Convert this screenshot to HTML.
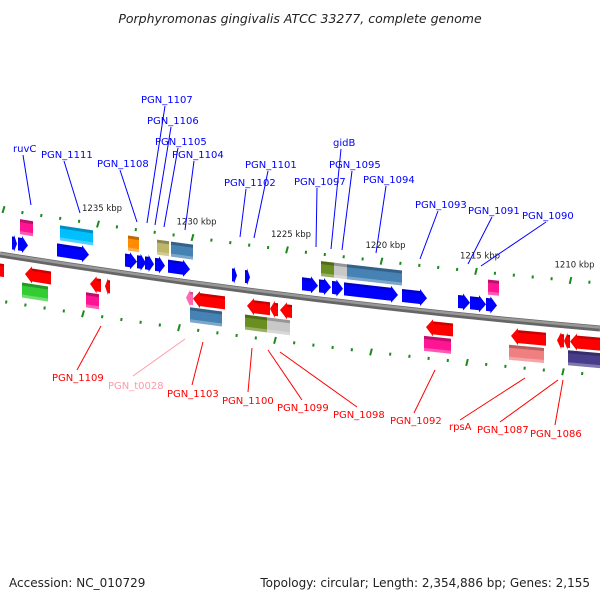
<!DOCTYPE html>
<html><head><meta charset="utf-8"><style>
body{margin:0;background:#fff;}
svg{display:block;font-family:"DejaVu Sans","Liberation Sans",sans-serif;}
</style></head><body>
<svg id="map" width="600" height="600" viewBox="0 0 600 600" xmlns="http://www.w3.org/2000/svg">
<text x="300" y="23" text-anchor="middle" font-size="12.5" font-style="italic" fill="#222">Porphyromonas gingivalis ATCC 33277, complete genome</text>
<text x="9" y="587" font-size="12" fill="#222">Accession: NC_010729</text>
<text x="590" y="587" text-anchor="end" font-size="12" fill="#222">Topology: circular; Length: 2,354,886 bp; Genes: 2,155</text>
<path d="M0,254.5 Q299,302.5 600,328.5" stroke="#666" stroke-width="6" fill="none"/>
<path d="M0,253.5 Q299,301.5 600,327.5" stroke="#999" stroke-width="2.5" fill="none"/>
<g id="ticks"></g><g id="feats"></g><g id="labels"></g>
</svg>
<script>
// tick data (kbp)
const majorKbp = [1240,1235,1230,1225,1220,1215,1210];
const labelKbp = [1235,1230,1225,1220,1215,1210];
// forward-strand arrows [x1,x2]
const fwdArrows = [[12,17],[18,28],[57,89],[125,137],[137,146],[145,154],[155,165],[168,190],[232,237],[245,250],[302,318],[319,331],[332,343],[344,398],[402,427],[458,470],[470,486],[486,497]];
// upper boxes [x1,x2,color]
const upperBoxes = [[20,33,'#ff1493'],[60,93,'#00bfff'],[128,139,'#ff8c00'],[157,169,'#bdb76b'],[171,193,'#4682b4'],[321,334,'#6b8e23'],[334,347,'#c8c8c8'],[347,402,'#4682b4'],[488,499,'#ff1493']];
// reverse-strand arrows [x1,x2,color]
const revArrows = [[-10,4,'#ff0000'],[25,51,'#ff0000'],[90,101,'#ff0000'],[105,110,'#ff0000'],[186,193,'#ff69b4'],[193,225,'#ff0000'],[247,270,'#ff0000'],[270,278,'#ff0000'],[280,292,'#ff0000'],[426,453,'#ff0000'],[511,546,'#ff0000'],[557,564,'#ff0000'],[564,570,'#ff0000'],[570,610,'#ff0000']];
// lower boxes
const lowerBoxes = [[22,48,'#32cd32'],[86,99,'#ff1493'],[190,222,'#4682b4'],[245,267,'#6b8e23'],[267,277,'#c8c8c8'],[277,290,'#c8c8c8'],[424,451,'#ff1493'],[509,544,'#f08080'],[568,610,'#483d8b']];
// labels: [text, tx, ty, lx1, ly1, lx2, ly2]
const topLabels = [["ruvC",13,152,23,155,31,205],["PGN_1111",41,158,64,161,80,213],["PGN_1108",97,167,120,170,137,222],["PGN_1107",141,103,165,106,147,223],["PGN_1106",147,124,171,127,155,225],["PGN_1105",155,145,178,148,164,227],["PGN_1104",172,158,194,161,185,230],["PGN_1101",245,168,268,171,254,238],["PGN_1102",224,186,246,189,240,237],["PGN_1097",294,185,317,188,316,247],["gidB",333,146,341,149,331,249],["PGN_1095",329,168,352,171,342,250],["PGN_1094",363,183,386,186,376,253],["PGN_1093",415,208,438,211,420,259],["PGN_1091",468,214,492,217,468,264],["PGN_1090",522,219,546,222,481,266]];
const botLabels = [["PGN_1109",52,381,101,326,77,370,'#f00'],["PGN_t0028",108,389,185,339,133,376,'#f9a'],["PGN_1103",167,397,203,342,192,385,'#f00'],["PGN_1100",222,404,252,348,248,392,'#f00'],["PGN_1099",277,411,268,350,302,400,'#f00'],["PGN_1098",333,418,280,352,357,407,'#f00'],["PGN_1092",390,424,435,370,414,413,'#f00'],["rpsA",449,430,525,378,460,420,'#f00'],["PGN_1087",477,433,558,380,500,422,'#f00'],["PGN_1086",530,437,563,380,555,425,'#f00']];

const NS='http://www.w3.org/2000/svg';
function yb(x){return 254+0.16*x-0.0000608*x*x;}
function ang(x){return Math.atan(0.16-0.0001216*x)*180/Math.PI;}
function mk(tag,attrs,parent){const e=document.createElementNS(NS,tag);for(const k in attrs)e.setAttribute(k,attrs[k]);parent.appendChild(e);return e;}
const T=document.getElementById('ticks'),F=document.getElementById('feats'),L=document.getElementById('labels');
function xUp(k){return 98+94.5*(1235-k)/5;}
function xLo(k){return 83+96*(1235-k)/5;}
for(let k=1241;k>=1208;k--){
  const major=majorKbp.indexOf(k)>=0;
  [[xUp(k),-45],[xLo(k),47]].forEach(p=>{
    const x=p[0];if(x<-2||x>602)return;const y=yb(x)+p[1];
    const r=mk('rect',{x:x-1,y:y-(major?3.5:1.5),width:2,height:major?7:3,fill:'#1a8a1a',transform:`rotate(${ang(x)+(major?8:0)} ${x} ${y})`},T);
    
    
  });
}
labelKbp.forEach(k=>{const x=xUp(k);const t=mk('text',{x:x-16,y:yb(x)-58,'font-size':'8.5',fill:'#222'},T);t.textContent=k+' kbp';
  
  });
function pts(a){return a.map(p=>p[0]+','+p[1]).join(' ');}
function box(x1,x2,off,h,c,name){
  const g=mk('g',{},F);
  
  
  mk('polygon',{points:pts([[x1,yb(x1)+off],[x2,yb(x2)+off],[x2,yb(x2)+off+h],[x1,yb(x1)+off+h]]),fill:c},g);
  mk('polygon',{points:pts([[x1,yb(x1)+off],[x2,yb(x2)+off],[x2,yb(x2)+off+3],[x1,yb(x1)+off+3]]),fill:'rgba(0,0,0,0.25)'},g);
  mk('polygon',{points:pts([[x1,yb(x1)+off+h-3],[x2,yb(x2)+off+h-3],[x2,yb(x2)+off+h],[x1,yb(x1)+off+h]]),fill:'rgba(255,255,255,0.3)'},g);
}
function arrow(x1,x2,off,h,c,fwd,name){
  const tip=Math.min(7,(x2-x1)*0.6);
  const g=mk('g',{},F);
  
  
  let p;
  if(fwd){const b=x2-tip;p=[[x1,yb(x1)+off+1.5],[b,yb(b)+off+1.5],[b,yb(b)+off-0.5],[x2,yb(x2)+off+h/2],[b,yb(b)+off+h+0.5],[b,yb(b)+off+h-1.5],[x1,yb(x1)+off+h-1.5]];}
  else{const b=x1+tip;p=[[x2,yb(x2)+off+1.5],[b,yb(b)+off+1.5],[b,yb(b)+off-0.5],[x1,yb(x1)+off+h/2],[b,yb(b)+off+h+0.5],[b,yb(b)+off+h-1.5],[x2,yb(x2)+off+h-1.5]];}
  mk('polygon',{points:pts(p),fill:c},g);
  const a=x1+(fwd?0:tip),bb=x2-(fwd?tip:0);
  if(bb>a)mk('polygon',{points:pts([[a,yb(a)+off+1.5],[bb,yb(bb)+off+1.5],[bb,yb(bb)+off+4],[a,yb(a)+off+4]]),fill:'rgba(0,0,0,0.2)'},g);
}
fwdArrows.forEach(f=>arrow(f[0],f[1],-21,16,'#0000ff',true,'forward-gene'));
upperBoxes.forEach(f=>box(f[0],f[1],-38,15,f[2],'upper-feature'));
revArrows.forEach(f=>arrow(f[0],f[1],8,16,f[2],false,'reverse-gene'));
lowerBoxes.forEach(f=>box(f[0],f[1],25,15,f[2],'lower-feature'));
function lab(d,col){
  const l=mk('line',{x1:d[3],y1:d[4],x2:d[5],y2:d[6],stroke:col,'stroke-width':1},L);
  
  
  const t=mk('text',{x:d[1],y:d[2],'font-size':'10',fill:col},L);t.textContent=d[0];
  
  
}
topLabels.forEach(d=>lab(d,'#0000ff'));
botLabels.forEach(d=>lab(d,d[7]));
</script>
</body></html>
